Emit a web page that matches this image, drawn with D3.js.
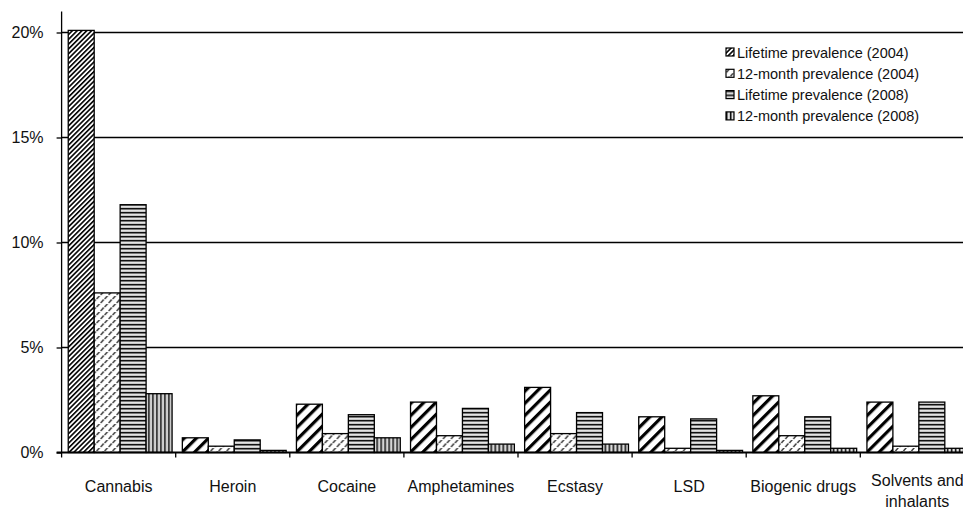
<!DOCTYPE html>
<html>
<head>
<meta charset="utf-8">
<script src="https://cdn.jsdelivr.net/npm/d3@7"></script>
<style>
  body { margin: 0; background: #fff; }
  svg { font-family: "Liberation Sans", Arial, sans-serif; }
</style>
</head>
<body>
<div id="chart"></div>
<script>
////////////////////////////////////////////////////////////////
// Data

let categories = ["Cannabis", "Heroin", "Cocaine", "Amphetamines", "Ecstasy",
  "LSD", "Biogenic drugs", "Solvents and inhalants"]
let seriesNames = ["Lifetime prevalence (2004)", "12-month prevalence (2004)",
  "Lifetime prevalence (2008)", "12-month prevalence (2008)"]

let lifetime2004 = [20.1, 0.7, 2.3, 2.4, 3.1, 1.7, 2.7, 2.4]
let month2004    = [7.6, 0.3, 0.9, 0.8, 0.9, 0.2, 0.8, 0.3]
let lifetime2008 = [11.8, 0.6, 1.8, 2.1, 1.9, 1.6, 1.7, 2.4]
let month2008    = [2.8, 0.1, 0.7, 0.4, 0.4, 0.1, 0.2, 0.2]

let yTicks = [0, 5, 10, 15, 20]

let seriesValues = [lifetime2004, month2004, lifetime2008, month2008]

////////////////////////////////////////////////////////////////
// Setup

let width = 963, height = 512
let svg = d3.select("#chart").append("svg")
  .attr("width", width)
  .attr("height", height)

let x = d3.scaleBand()
  .domain(categories)
  .range([61.6, 61.6 + 8 * 114.1])
  .paddingInner(0.09)
  .paddingOuter(0.045)

let xs = d3.scaleBand()
  .domain(d3.range(seriesNames.length))
  .range([0, x.bandwidth()])

let y = d3.scaleLinear()
  .domain([0, 21])
  .range([452.5, 11.5])

////////////////////////////////////////////////////////////////
// Fill patterns

let defs = svg.append("defs")

// dense upward diagonal (used on the tall Cannabis bar)
let p = defs.append("pattern").attr("id", "diagFine")
  .attr("patternUnits", "userSpaceOnUse")
  .attr("width", 3.4).attr("height", 3.4)
  .attr("patternTransform", "rotate(45)")
p.append("rect").attr("width", 3.4).attr("height", 3.4).attr("fill", "#fff")
p.append("rect").attr("width", 1.6).attr("height", 3.4).attr("fill", "#000")

// wide upward diagonal
p = defs.append("pattern").attr("id", "diagWide")
  .attr("patternUnits", "userSpaceOnUse")
  .attr("width", 8.6).attr("height", 8.6)
  .attr("patternTransform", "rotate(45)")
p.append("rect").attr("width", 8.6).attr("height", 8.6).attr("fill", "#fff")
p.append("rect").attr("width", 3.2).attr("height", 8.6).attr("fill", "#000")

// dashed diagonal
p = defs.append("pattern").attr("id", "dashDiag")
  .attr("patternUnits", "userSpaceOnUse")
  .attr("width", 8).attr("height", 8)
p.append("rect").attr("width", 8).attr("height", 8).attr("fill", "#fff")
p.append("path").attr("d", "M0.5,7L3.5,3.5M4.5,3L7.5,-0.5")
  .attr("stroke", "#333").attr("stroke-width", 1.4)

// horizontal stripes
p = defs.append("pattern").attr("id", "horiz")
  .attr("patternUnits", "userSpaceOnUse")
  .attr("width", 4).attr("height", 4)
p.append("rect").attr("width", 4).attr("height", 4).attr("fill", "#bbb")
p.append("rect").attr("y", 0).attr("width", 4).attr("height", 1.4).attr("fill", "#111")
p.append("rect").attr("y", 2.4).attr("width", 4).attr("height", 0.8).attr("fill", "#fff")

// vertical stripes
p = defs.append("pattern").attr("id", "vert")
  .attr("patternUnits", "userSpaceOnUse")
  .attr("width", 4).attr("height", 4)
p.append("rect").attr("width", 4).attr("height", 4).attr("fill", "#bbb")
p.append("rect").attr("x", 0).attr("width", 1.4).attr("height", 4).attr("fill", "#111")
p.append("rect").attr("x", 2.4).attr("width", 0.8).attr("height", 4).attr("fill", "#fff")

let fills = ["diagWide", "dashDiag", "horiz", "vert"]
function fillFor(s, c) {
  if (s == 0 && c == 0) return "url(#diagFine)"
  return "url(#" + fills[s] + ")"
}

////////////////////////////////////////////////////////////////
// Gridlines and axes

svg.append("g")
  .selectAll("line")
  .data(yTicks.filter(d => d > 0))
  .enter()
  .append("line")
  .attr("x1", x.range()[0]).attr("x2", width)
  .attr("y1", d => y(d)).attr("y2", d => y(d))
  .attr("stroke", "#000").attr("stroke-width", 1.3)

let yAxis = svg.append("g")
  .attr("transform", "translate(" + x.range()[0] + ",0)")
  .call(d3.axisLeft(y).tickValues(yTicks).tickSize(5).tickPadding(13)
    .tickFormat(d => d + "%"))
yAxis.select(".domain").remove()
yAxis.selectAll("line").attr("stroke", "#000").attr("stroke-width", 1.3)
yAxis.selectAll("text").attr("font-size", 16).attr("fill", "#111")
  .attr("font-family", "Liberation Sans, Arial, sans-serif")

svg.append("line")
  .attr("x1", x.range()[0]).attr("x2", x.range()[0])
  .attr("y1", y.range()[1]).attr("y2", y(0))
  .attr("stroke", "#000").attr("stroke-width", 1.3)

////////////////////////////////////////////////////////////////
// Bars

let groups = svg.append("g")
  .selectAll("g")
  .data(categories)
  .enter()
  .append("g")
  .attr("transform", d => "translate(" + (x(d) + 1.5) + ",0)")

groups.selectAll("rect")
  .data((d, i) => seriesValues.map((vals, s) => ({ s: s, c: i, v: vals[i] })))
  .enter()
  .append("rect")
  .attr("x", d => xs(d.s))
  .attr("y", d => y(d.v))
  .attr("width", xs.bandwidth())
  .attr("height", d => y(0) - y(d.v))
  .attr("fill", d => fillFor(d.s, d.c))
  .attr("stroke", "#000")
  .attr("stroke-width", 1.3)

// x axis line and ticks at category boundaries
svg.append("line")
  .attr("x1", x.range()[0] - 5).attr("x2", width)
  .attr("y1", y(0)).attr("y2", y(0))
  .attr("stroke", "#000").attr("stroke-width", 2)

svg.append("g")
  .selectAll("line")
  .data(categories)
  .enter()
  .append("line")
  .attr("x1", d => x(d) - x.step() * x.paddingInner() / 2)
  .attr("x2", d => x(d) - x.step() * x.paddingInner() / 2)
  .attr("y1", y(0)).attr("y2", y(0) + 5)
  .attr("stroke", "#000").attr("stroke-width", 1.3)

// category labels (wrap the long one onto two lines)
let catLabels = svg.append("g")
  .selectAll("text")
  .data(categories)
  .enter()
  .append("text")
  .attr("x", d => x(d) + x.bandwidth() / 2)
  .attr("y", d => d == "Solvents and inhalants" ? 486 : 492)
  .attr("text-anchor", "middle")
  .attr("font-size", 16)
  .attr("fill", "#111")

catLabels.each(function(d) {
  let t = d3.select(this)
  let lines = d == "Solvents and inhalants" ? ["Solvents and", "inhalants"] : [d]
  lines.forEach((l, i) => {
    t.append("tspan").attr("x", x(d) + x.bandwidth() / 2)
      .attr("dy", i == 0 ? 0 : 21).text(l)
  })
})

////////////////////////////////////////////////////////////////
// Legend

let legend = svg.append("g").attr("transform", "translate(726,52)")

let items = legend.selectAll("g")
  .data(seriesNames)
  .enter()
  .append("g")
  .attr("transform", (d, i) => "translate(0," + (i * 21.3) + ")")

items.append("rect")
  .attr("x", 0).attr("y", -4)
  .attr("width", 8).attr("height", 8)
  .attr("fill", (d, i) => i == 0 ? "url(#diagFine)" : "url(#" + fills[i] + ")")
  .attr("stroke", "#000").attr("stroke-width", 1.2)

items.append("text")
  .attr("x", 11).attr("y", 5.5)
  .attr("font-size", 14.5)
  .attr("fill", "#111")
  .text(d => d)
</script>
</body>
</html>
